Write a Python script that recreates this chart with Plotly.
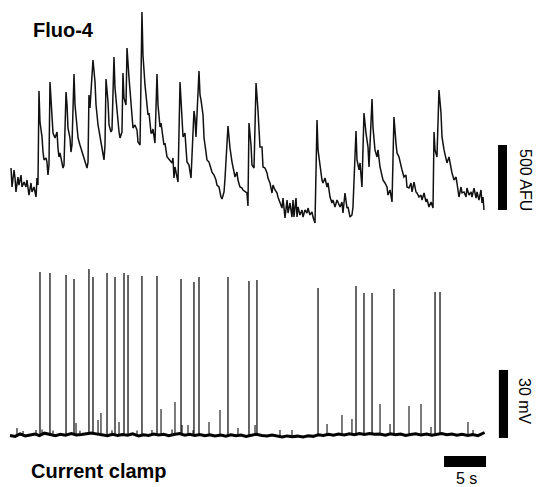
import numpy as np
import plotly.graph_objects as go

# ---------------- data ----------------
# Fluo-4 fluorescence trace (time in s, fluorescence in AFU)
fluo_t = [0.12, 0.24, 0.48, 0.60, 0.71, 0.95, 1.07, 1.31, 1.43, 1.67, 1.90, 2.02, 2.26, 2.50, 2.62, 2.86, 3.10, 3.21, 3.33,
          3.45, 3.57, 3.81, 3.93, 4.05, 4.29, 4.40, 4.52, 4.64,
          4.76, 5.00, 5.12, 5.36, 5.60, 5.71, 5.83, 5.95, 6.19, 6.31, 6.43,
          6.67, 6.79, 6.90, 7.14, 7.26, 7.38, 7.50,
          7.62, 7.74, 7.98, 8.10, 8.33, 8.57, 8.69, 8.93, 9.17, 9.29,
          9.40, 9.52, 9.88, 10.12, 10.24, 10.48, 10.71, 10.95, 11.19, 11.31,
          11.43, 11.67, 11.79, 12.02, 12.14,
          12.38, 12.50, 12.74, 12.98, 13.10, 13.33,
          13.45, 13.57, 13.81, 13.93, 14.17, 14.40, 14.52, 14.64, 14.88, 15.12, 15.24, 15.48,
          15.71, 15.83, 16.07, 16.31, 16.43, 16.55, 16.79, 16.90, 17.02, 17.26,
          17.50, 17.62, 17.86, 17.98, 18.21, 18.33, 18.45, 18.69, 18.81, 19.05, 19.29, 19.40, 19.52, 19.64, 19.88, 20.00,
          20.24, 20.48, 20.60, 20.83, 20.95, 21.07, 21.31, 21.55,
          21.90, 22.02, 22.14, 22.50, 22.62, 22.74, 22.98, 23.10, 23.33, 23.45, 23.69, 23.93, 24.05, 24.29, 24.52,
          24.64, 24.88, 25.12, 25.24, 25.48, 25.60,
          25.95, 26.07, 26.19, 26.43, 26.55, 26.79, 27.02, 27.14, 27.38, 27.62, 27.74, 27.98, 28.21, 28.33,
          28.45, 28.69, 28.81, 29.05,
          29.29, 29.52, 29.76, 30.00, 30.12, 30.36, 30.60, 30.71, 30.95, 31.19, 31.31, 31.55, 31.79, 31.90,
          32.14, 32.38, 32.50, 32.74, 32.98, 33.10, 33.33, 33.57, 33.69, 33.81, 34.05, 34.17, 34.29, 34.52,
          34.76, 34.88, 35.12, 35.36, 35.48, 35.71, 35.95, 36.07, 36.31,
          36.55, 36.67, 36.90, 37.14, 37.26, 37.50, 37.74, 37.86, 38.10, 38.33, 38.45, 38.69, 38.93, 39.05,
          39.29, 39.52, 39.64, 39.88, 40.12, 40.24, 40.48, 40.71, 40.83,
          41.19, 41.31, 41.55, 41.67, 41.90, 42.14, 42.38, 42.62, 42.74,
          43.10, 43.21, 43.45, 43.69, 43.81, 44.05, 44.29, 44.40, 44.64, 44.88, 45.00, 45.24, 45.48,
          45.71, 45.95, 46.07, 46.31, 46.55, 46.67, 46.90, 47.14, 47.26, 47.50, 47.74, 47.86, 48.10, 48.33,
          48.45, 48.69, 48.93, 49.05, 49.29, 49.52, 49.64, 49.88, 50.12, 50.36,
          50.48, 50.60, 50.83, 51.07, 51.31, 51.43, 51.67, 51.90, 52.02, 52.26, 52.50, 52.62, 52.86, 53.10,
          53.21, 53.45, 53.69, 53.81, 54.05, 54.29, 54.40, 54.64, 54.88, 55.00, 55.24, 55.48, 55.60, 55.83,
          56.07, 56.19, 56.31, 56.43]
fluo_afu = [246, 100, 231, 169, 62, 177, 115, 192, 100, 138, 100, 154, 38, 131, 62, 100, 23, 169, 115,
            838, 600, 485, 369, 308, 323, 292, 192, 269,
            908, 677, 515, 477, 523, 400, 331, 362, 292, 246, 269,
            831, 731, 554, 477, 369, 423, 731,
            969, 731, 577, 477, 423, 369, 346, 292, 246, 292,
            808, 708, 1077, 908, 731, 577, 477, 400, 308, 423,
            931, 754, 577, 523, 538,
            1100, 862, 654, 523, 477, 523,
            977, 785, 731, 1169, 938, 731, 631, 554, 577, 538, 446, 423,
            1446, 1115, 885, 731, 654, 669, 515, 515, 546, 438,
            969, 731, 562, 592, 477, 423, 438, 331, 323, 308, 285, 323, 169, 254, 192, 138,
            908, 631, 485, 515, 369, 292, 269, 169,
            685, 631, 485, 992, 808, 769, 654, 477, 369, 308, 292, 246, 215, 192, 154,
            115, 100, 23, 8, 62, 169,
            569, 477, 400, 292, 246, 177, 215, 154, 100, 92, 77, 62, 54, -46,
            592, 423, 269, 246,
            900, 692, 408, 408, 254, 246, 208, 169, 131, 54, 115, 77, 54, 23,
            -15, -62, 15, -138, 0, -100, -23, -131, 0, -131, 15, -131, -54, -115,
            -77, -131, -77, -100, -62, -115, -92, -131, -177,
            615, 385, 254, 154, 131, 169, 100, 131, 23, -23, 0, -54, 0, -23,
            -54, -15, -100, 54, -62, -54, -131, -115, -54,
            531, 308, 231, 285, 100, 669, 515, 408, 254,
            777, 562, 385, 331, 385, 254, 177, 154, 131, 100, 38, 77, -15,
            638, 438, 362, 331, 254, 231, 177, 192, 100, 92, 131, 62, 138, 62,
            54, 23, 38, 0, 54, -15, 8, -54, -15, -62,
            523, 385, 331, 846, 669, 485, 385, 308, 285, 331, 231, 208, 154, 177,
            131, 23, 100, 54, 62, 23, 92, 38, 62, 23, 92, 15, 62, 0,
            77, -23, 23, -77]

# Current clamp: action potentials (time in s, peak in mV)
spike_t = [3.57, 4.76, 6.67, 7.62, 9.40, 9.88, 11.55, 12.50, 13.57, 14.05, 15.71, 17.50, 20.36, 21.90, 22.50,
           25.95, 28.45, 29.40, 36.67, 41.19, 42.14, 43.10, 45.71, 50.60, 51.19]
spike_peak_mv = [11.9, 11.5, 10.6, 8.8, 13.2, 9.7, 11.5, 9.7, 11.5, 10.6, 10.1, 10.1, 8.8, 7.5, 9.7,
                 9.7, 7.9, 8.4, 4.9, 5.7, 2.6, 2.6, 4.4, 3.1, 3.1]
# Sub-threshold events
event_t = [0.83, 1.55, 3.10, 3.81, 5.12, 7.86, 8.33, 10.48, 10.83, 12.14, 12.98, 15.12, 16.90, 17.98, 19.29, 19.64,
           20.48, 21.19, 21.79, 23.69, 25.00, 27.14, 29.17, 32.14, 33.57, 37.74, 39.52, 40.71, 44.05, 45.24,
           47.50, 48.93, 50.12, 54.52, 55.12]
event_peak_mv = [-56.9, -58.2, -57.8, -57.6, -58.0, -54.7, -58.1, -53.4, -50.3, -57.9, -54.3, -58.0, -57.8, -48.5,
                 -57.6, -45.4, -55.6, -55.6, -57.9, -54.3, -49.0, -56.9, -55.6, -57.8, -57.8, -55.1, -51.2, -52.9,
                 -46.3, -55.1, -47.2, -46.3, -56.5, -54.3, -57.8]
# Membrane potential baseline
baseline_t = [0.0, 0.6, 1.2, 1.8, 2.4, 3.0, 3.5, 4.1, 4.8, 5.4, 6.0, 6.6, 7.3, 7.9, 8.5, 9.1, 9.7, 10.4, 11.0, 11.6,
              12.2, 12.8, 13.4, 14.0, 14.6, 15.3, 15.9, 16.5, 17.1, 17.7, 18.3, 18.9, 19.5, 20.2, 20.8, 21.4,
              22.0, 22.6, 23.2, 23.8, 24.4, 25.1, 25.7, 26.3, 26.9, 27.5, 28.1, 28.7, 29.3, 30.0, 30.6, 31.2,
              31.8, 32.4, 33.0, 33.6, 34.2, 34.9, 35.5, 36.1, 36.7, 37.3, 37.9, 38.5, 39.1, 39.8, 40.4, 41.0,
              41.6, 42.2, 42.8, 43.4, 44.0, 44.7, 45.3, 45.9, 46.5, 47.1, 47.7, 48.3, 48.9, 49.6, 50.2, 50.8,
              51.4, 52.0, 52.6, 53.2, 53.8, 54.5, 55.1, 55.7, 56.1, 56.5]
baseline_mv = [-60.2, -60.6, -59.5, -60.4, -60.0, -59.6, -60.3, -59.2, -59.8, -60.3, -59.7, -60.1, -59.4, -60.0, -59.8,
               -59.3, -59.1, -59.6, -59.9, -60.3, -59.7, -60.2, -59.8, -60.1, -59.5, -60.4, -59.9, -60.2, -59.6, -60.0,
               -59.7, -60.3, -59.8, -59.4, -60.1, -59.7, -60.2, -59.8, -60.3, -59.9, -60.4, -60.0, -60.5, -59.9, -60.3,
               -60.0, -60.6, -60.1, -59.7, -60.2, -60.4, -60.0, -60.6, -60.9, -60.4, -60.8, -60.5, -60.9, -60.3, -60.6,
               -59.9, -60.2, -59.7, -60.1, -59.6, -60.0, -59.5, -59.9, -59.4, -59.8, -59.3, -59.7, -59.6, -60.1, -59.5,
               -59.9, -59.6, -60.2, -59.8, -59.5, -60.0, -59.6, -60.1, -59.7, -59.4, -59.9, -59.6, -60.1, -59.7, -60.2,
               -59.8, -60.3, -59.6, -58.9]

SCALE_S = 5      # s
SCALE_AFU = 500  # AFU
SCALE_MV = 30    # mV

# ---------------- figure ----------------
W, H = 536, 487
x_range = [-1.1905, 62.619]
afu_range = [-2207.7, 1538.5]
mv_range = [-82.94, 131.91]

def seg_xy(times, tops):
    xs, ys = [], []
    for t, p in zip(times, tops):
        foot = float(np.interp(t, baseline_t, baseline_mv))
        xs += [t, t, None]
        ys += [foot, p, None]
    return xs, ys

fig = go.Figure()
fig.add_trace(go.Scatter(x=fluo_t, y=fluo_afu, mode="lines", yaxis="y",
                         line=dict(color="#111111", width=1.5), showlegend=False, hoverinfo="skip"))
fig.add_trace(go.Scatter(x=baseline_t, y=baseline_mv, mode="lines", yaxis="y2",
                         line=dict(color="#000000", width=3), showlegend=False, hoverinfo="skip"))
ex, ey = seg_xy(event_t, event_peak_mv)
fig.add_trace(go.Scatter(x=ex, y=ey, mode="lines", yaxis="y2",
                         line=dict(color="#111111", width=1.1), showlegend=False, hoverinfo="skip"))
sx, sy = seg_xy(spike_t, spike_peak_mv)
fig.add_trace(go.Scatter(x=sx, y=sy, mode="lines", yaxis="y2",
                         line=dict(color="#000000", width=1.2), showlegend=False, hoverinfo="skip"))

shapes = []
# 500 AFU bar
afu0 = -77
shapes.append(dict(type="rect", xref="x", yref="y", x0=58.1, x1=59.17, y0=afu0, y1=afu0 + SCALE_AFU,
                   fillcolor="black", line=dict(width=0)))
# 30 mV bar
mv0 = -61.3
shapes.append(dict(type="rect", xref="x", yref="y2", x0=58.2, x1=59.29, y0=mv0, y1=mv0 + SCALE_MV,
                   fillcolor="black", line=dict(width=0)))
# 5 s bar
s0 = 51.67
shapes.append(dict(type="rect", xref="x", yref="y2", x0=s0, x1=s0 + SCALE_S, y0=-74.1, y1=-69.3,
                   fillcolor="black", line=dict(width=0)))

font = "Arial, 'Liberation Sans', Helvetica, sans-serif"
ann = [
    dict(text="<b>Fluo-4</b>", x=31 / W, y=1 - 30 / H, xanchor="left", yanchor="middle",
         font=dict(size=20, color="black", family=font)),
    dict(text="<b>Current clamp</b>", x=29 / W, y=1 - 471 / H, xanchor="left", yanchor="middle",
         font=dict(size=20, color="black", family=font)),
    dict(text=f"{SCALE_S} s", x=466 / W, y=1 - 478 / H, xanchor="center", yanchor="middle",
         font=dict(size=16, color="black", family=font)),
    dict(text=f"{SCALE_AFU} AFU", x=525 / W, y=1 - 180 / H, xanchor="center", yanchor="middle", textangle=90,
         font=dict(size=16, color="black", family=font)),
    dict(text=f"{SCALE_MV} mV", x=525 / W, y=1 - 401 / H, xanchor="center", yanchor="middle", textangle=90,
         font=dict(size=16, color="black", family=font)),
]
for a in ann:
    a.update(xref="paper", yref="paper", showarrow=False)

fig.update_layout(
    width=W, height=H, margin=dict(l=0, r=0, t=0, b=0),
    paper_bgcolor="white", plot_bgcolor="white",
    xaxis=dict(range=x_range, visible=False, domain=[0, 1]),
    yaxis=dict(range=afu_range, visible=False, domain=[0, 1]),
    yaxis2=dict(range=mv_range, visible=False, overlaying="y", domain=[0, 1]),
    shapes=shapes, annotations=ann, showlegend=False,
)
fig.write_html("out.html")
